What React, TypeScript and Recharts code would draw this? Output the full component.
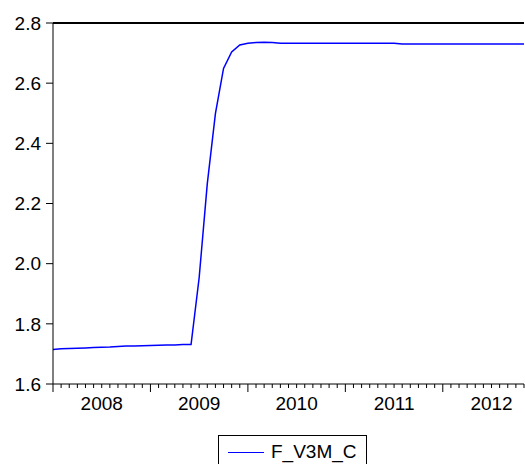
import React from "react";
import { LineChart, Line, XAxis, YAxis, ReferenceLine } from "recharts";

// monthly observations, 2008M01 .. 2012M11
const years = ["2008", "2009", "2010", "2011", "2012"];
const values = [
  1.715, 1.717, 1.718, 1.719, 1.72, 1.721, 1.722, 1.723, 1.725, 1.726, 1.726, 1.727,
  1.728, 1.729, 1.73, 1.73, 1.731, 1.731, 1.954, 2.266, 2.499, 2.649, 2.704, 2.727,
  2.733, 2.735, 2.736, 2.735, 2.733, 2.733, 2.733, 2.733, 2.733, 2.733, 2.733, 2.733,
  2.733, 2.733, 2.733, 2.733, 2.733, 2.733, 2.733, 2.73, 2.73, 2.73, 2.73, 2.73,
  2.73, 2.73, 2.73, 2.73, 2.73, 2.73, 2.73, 2.73, 2.73, 2.73, 2.73,
];
const yTicks = [1.6, 1.8, 2.0, 2.2, 2.4, 2.6, 2.8];
const seriesName = "F_V3M_C";

const FONT = "'Liberation Sans', Arial, sans-serif";

const data = values.map((v, i) => ({
  idx: i,
  label: `${years[Math.floor(i / 12)]}M${String((i % 12) + 1).padStart(2, "0")}`,
  value: v,
}));
const monthTicks = data.map((d) => d.idx);

const MonthTick = (props: any) => {
  const { x, y, payload } = props;
  const i = payload.value as number;
  const major = i % 12 === 0;
  const yearLabel = i % 12 === 6 ? years[Math.floor(i / 12)] : null;
  return (
    <g>
      <line x1={x} x2={x} y1={y} y2={y + (major ? 8 : 4)} stroke="#000" strokeWidth={1} />
      {yearLabel && (
        <text x={x} y={y + 26} textAnchor="middle" fontSize={19} fontFamily={FONT} fill="#000">
          {yearLabel}
        </text>
      )}
    </g>
  );
};

export default function App() {
  return (
    <div style={{ position: "absolute", left: 0, top: 0, width: 525, height: 464, background: "#fff" }}>
      <LineChart width={525} height={464} data={data} margin={{ top: 23, right: 1, bottom: 0, left: 0 }}>
        <XAxis
          dataKey="idx"
          type="number"
          domain={[0, values.length - 1]}
          ticks={monthTicks}
          interval={0}
          height={80}
          tickSize={0}
          tickMargin={0}
          tickLine={false}
          tick={<MonthTick />}
          stroke="#000"
        />
        <YAxis
          type="number"
          domain={[1.6, 2.8]}
          ticks={yTicks}
          width={53}
          tickSize={7}
          tickMargin={5}
          stroke="#000"
          tick={{ fontSize: 19, fontFamily: FONT, fill: "#000" }}
          tickFormatter={(v: number) => v.toFixed(1)}
        />
        <ReferenceLine y={2.8} stroke="#000" strokeWidth={2} />
        <Line
          type="linear"
          dataKey="value"
          name={seriesName}
          stroke="#0000ff"
          strokeWidth={1.5}
          dot={false}
          isAnimationActive={false}
        />
      </LineChart>
      <div
        style={{
          position: "absolute",
          left: 218,
          top: 435,
          width: 149,
          height: 40,
          border: "1px solid #000",
          boxSizing: "border-box",
          fontFamily: FONT,
          fontSize: 19,
          color: "#000",
        }}
      >
        <div style={{ position: "absolute", left: 9, top: 16, width: 36, height: 0, borderTop: "1.5px solid #0000ff" }} />
        <div style={{ position: "absolute", left: 52, top: 5, lineHeight: "22px", whiteSpace: "nowrap" }}>{seriesName}</div>
      </div>
    </div>
  );
}
